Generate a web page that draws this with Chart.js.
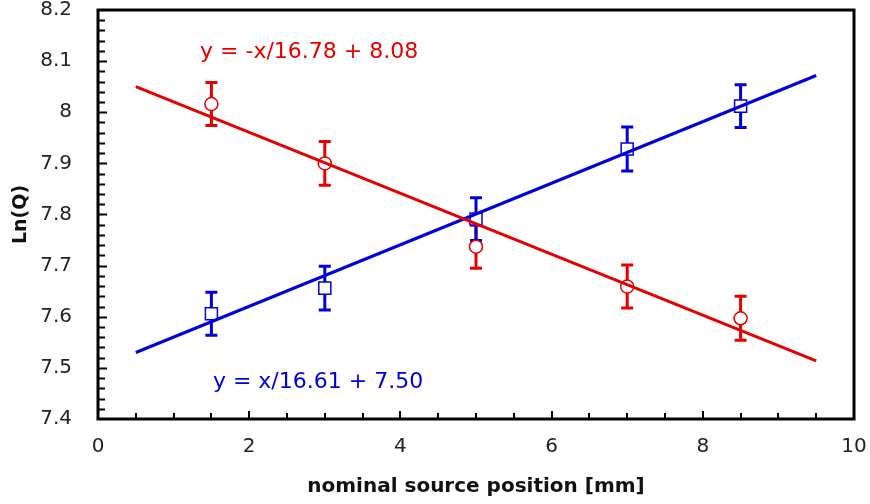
<!DOCTYPE html>
<html>
<head>
<meta charset="utf-8">
<script src="https://cdn.jsdelivr.net/npm/chart.js@4/dist/chart.umd.min.js"></script>
<style>
  html, body { margin: 0; padding: 0; background: #fff; }
  #wrap { width: 870px; height: 504px; }
</style>
</head>
<body>
<div id="wrap"><canvas id="chart-0"></canvas></div>
<script>
  // measured source positions [mm]
  var positions = [1.5, 3, 5, 7, 8.5];
  var redLnQ = [8.016, 7.900, 7.737, 7.659, 7.597];
  var blueLnQ = [7.606, 7.656, 7.791, 7.928, 8.012];
  var redErr = [0.042, 0.043, 0.042, 0.042, 0.043];
  var blueErr = [0.042, 0.043, 0.042, 0.043, 0.042];

  // linear fits, evaluated at the ends of the fitted range
  var fitX = [0.5, 9.5];
  var redFit = [8.0502, 7.5138];   // y = -x/16.78 + 8.08
  var blueFit = [7.5301, 8.0719];  // y = x/16.61 + 7.50

  var RED = '#e60000';
  var BLUE = '#0000dc';
  var FONT = '"DejaVu Sans", Verdana, sans-serif';

  function pts(xs, ys) {
    return xs.map(function(x, i) { return {x: x, y: ys[i]}; });
  }

  // error bars go under the markers
  var errorBars = {
    id: 'errorBars',
    beforeDatasetsDraw: function(chart) {
      var ctx = chart.ctx, xs = chart.scales.x, ys = chart.scales.y;
      [[redLnQ, redErr, RED], [blueLnQ, blueErr, BLUE]].forEach(function(s) {
        ctx.save();
        ctx.strokeStyle = s[2];
        ctx.lineWidth = 3;
        positions.forEach(function(x, i) {
          var px = xs.getPixelForValue(x);
          var top = ys.getPixelForValue(s[0][i] + s[1][i]);
          var bot = ys.getPixelForValue(s[0][i] - s[1][i]);
          ctx.beginPath();
          ctx.moveTo(px, top); ctx.lineTo(px, bot);
          ctx.moveTo(px - 6, top); ctx.lineTo(px + 6, top);
          ctx.moveTo(px - 6, bot); ctx.lineTo(px + 6, bot);
          ctx.stroke();
        });
        ctx.restore();
      });
    }
  };

  // frame, inward ticks and the fit equations
  var frame = {
    id: 'frame',
    afterDraw: function(chart) {
      var ctx = chart.ctx, a = chart.chartArea;
      var xs = chart.scales.x, ys = chart.scales.y;
      ctx.save();
      ctx.strokeStyle = '#000';
      ctx.lineWidth = 2;
      ctx.beginPath();
      var v, p, len;
      for (v = 0.5; v < 10; v += 0.5) {
        p = Math.round(xs.getPixelForValue(v));
        len = (v % 2 === 0) ? 8 : 6;
        ctx.moveTo(p, a.bottom); ctx.lineTo(p, a.bottom - len);
      }
      for (var k = 1; k < 40; k++) {
        v = 7.4 + k * 0.02;
        p = Math.round(ys.getPixelForValue(v)) + 0.5;
        len = (k % 5 === 0) ? 9 : 7;
        ctx.moveTo(a.left, p); ctx.lineTo(a.left + len, p);
      }
      ctx.stroke();
      ctx.lineWidth = 3;
      ctx.strokeRect(a.left, a.top, a.right - a.left, a.bottom - a.top);

      ctx.font = '22px ' + FONT;
      ctx.textBaseline = 'middle';
      ctx.fillStyle = RED;
      ctx.fillText('y = -x/16.78 + 8.08', xs.getPixelForValue(1.35), ys.getPixelForValue(8.117));
      ctx.fillStyle = BLUE;
      ctx.fillText('y = x/16.61 + 7.50', xs.getPixelForValue(1.52), ys.getPixelForValue(7.472));
      ctx.restore();
    }
  };

  var data = {
    datasets: [{
      type: 'line',
      data: pts(fitX, redFit),
      borderColor: RED,
      borderWidth: 3,
      pointRadius: 0,
      order: 0
    }, {
      type: 'line',
      data: pts(fitX, blueFit),
      borderColor: BLUE,
      borderWidth: 3,
      pointRadius: 0,
      order: 1
    }, {
      data: pts(positions, redLnQ),
      pointStyle: 'circle',
      pointRadius: 6.5,
      pointBorderWidth: 1.5,
      pointBorderColor: RED,
      pointBackgroundColor: '#fff',
      showLine: false,
      order: 2
    }, {
      data: pts(positions, blueLnQ),
      pointStyle: 'rect',
      pointRadius: 8.5,
      pointBorderWidth: 1.5,
      pointBorderColor: BLUE,
      pointBackgroundColor: '#fff',
      showLine: false,
      order: 3
    }]
  };

  var options = {
    responsive: true,
    maintainAspectRatio: false,
    animation: false,
    events: [],
    layout: { padding: { top: 10, right: 16, left: 0, bottom: 0 } },
    plugins: { legend: { display: false }, tooltip: { enabled: false } },
    scales: {
      x: {
        type: 'linear',
        min: 0, max: 10,
        grid: { display: false },
        border: { display: false },
        ticks: { stepSize: 2, padding: 8, color: '#222', font: { family: FONT, size: 20 } },
        title: { display: true, text: 'nominal source position [mm]', color: '#111', padding: { top: 10, bottom: 5 },
                 font: { family: FONT, size: 20, weight: 'bold' } },
        afterFit: function(s) {
          s.height = 85;
          s.paddingLeft = 0;
          s.paddingRight = 0;
        }
      },
      y: {
        type: 'linear',
        min: 7.4, max: 8.2,
        grid: { display: false },
        border: { display: false },
        ticks: {
          stepSize: 0.1, padding: 18, color: '#222', font: { family: FONT, size: 20 },
          callback: function(v) { return String(Number(v.toFixed(1))); }
        },
        title: { display: true, text: 'Ln(Q)', color: '#111', padding: { top: 10, bottom: 4 },
                 font: { family: FONT, size: 19, weight: 'bold' } },
        afterFit: function(s) {
          s.width = 98;
          s.paddingTop = 0;
          s.paddingBottom = 0;
        }
      }
    }
  };

  var chart = new Chart('chart-0', {
    type: 'scatter',
    data: data,
    options: options,
    plugins: [errorBars, frame]
  });
</script>
</body>
</html>
